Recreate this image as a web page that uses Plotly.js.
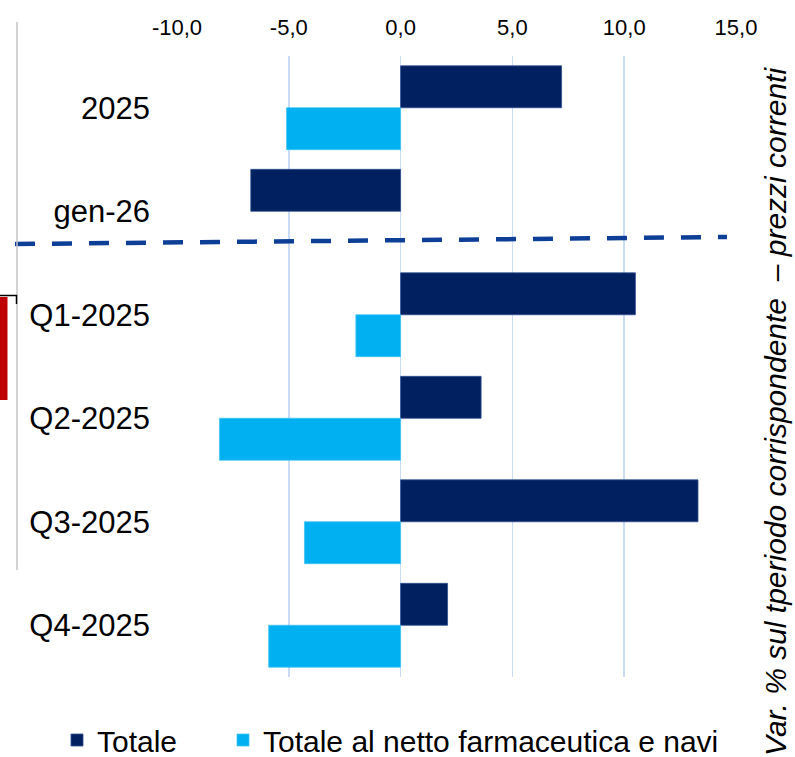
<!DOCTYPE html>
<html><head><meta charset="utf-8">
<script src="https://cdn.plot.ly/plotly-3.0.1.min.js"></script>
<style>body{margin:0;padding:0;background:#fff}#chart{width:795px;height:757px}</style>
</head><body><div id="chart"></div>
<script>
const categories = ['2025', 'gen-26', 'Q1-2025', 'Q2-2025', 'Q3-2025', 'Q4-2025'];
const totale = [7.2, -6.7, 10.5, 3.6, 13.3, 2.1];
const totaleNetto = [-5.1, null, -2.0, -8.1, -4.3, -5.9];
const seriesNames = ['Totale', 'Totale al netto farmaceutica e navi'];
const tickVals = [-10, -5, 0, 5, 10, 15];
const tickText = ['-10,0', '-5,0', '0,0', '5,0', '10,0', '15,0'];
const sideTitle = 'Var. % sul tperiodo corrispondente  – prezzi correnti';

const FONT = 'Arial, "Liberation Sans", sans-serif';
const W = 795, H = 757, L = 177, R = 59, T = 56, B = 80;
const pw = W - L - R, ph = H - T - B;
const px = v => (v - L) / pw;
const py = v => (H - B - v) / ph;

const traces = [
  {type: 'bar', orientation: 'h', name: seriesNames[0], y: categories, x: totale, legend: 'legend',
   marker: {color: '#002060', line: {color: '#2f4f8f', width: 0.8}}},
  {type: 'bar', orientation: 'h', name: seriesNames[1], y: categories, x: totaleNetto, legend: 'legend2',
   marker: {color: '#00B0F0', line: {color: '#40c4f4', width: 0.8}}}
];

const legendBase = {
  orientation: 'h', xanchor: 'left', yanchor: 'middle', y: py(740),
  font: {size: 30, family: FONT, color: '#000'}, itemwidth: 30, bgcolor: 'rgba(0,0,0,0)'
};

const layout = {
  width: W, height: H,
  margin: {l: L, r: R, t: T, b: B, autoexpand: false},
  paper_bgcolor: '#fff', plot_bgcolor: '#fff',
  font: {family: FONT, color: '#000'},
  barmode: 'group', bargap: 0.19, bargroupgap: 0,
  showlegend: true,
  xaxis: {
    side: 'top', range: [-10, 15], tickvals: tickVals, ticktext: tickText,
    showgrid: true, gridcolor: '#c9dbf6', gridwidth: 1.5,
    zeroline: false, showline: false, ticks: '', ticklabelstandoff: 16,
    tickfont: {size: 22, family: FONT, color: '#000'}
  },
  yaxis: {
    type: 'category', autorange: 'reversed', showgrid: false, zeroline: false,
    showline: false, ticks: '', ticklabelstandoff: 26,
    tickfont: {size: 31, family: FONT, color: '#000'}
  },
  legend: Object.assign({}, legendBase, {x: px(57)}),
  legend2: Object.assign({}, legendBase, {x: px(223)}),
  shapes: [
    {type: 'line', xref: 'paper', yref: 'paper', x0: px(15), y0: py(244), x1: px(727), y1: py(237),
     line: {color: '#0d3f96', width: 4.5, dash: '20px,17px'}},
    {type: 'line', xref: 'paper', yref: 'paper', x0: px(17), y0: py(22), x1: px(17), y1: py(570),
     line: {color: '#c4c4c4', width: 1.5}},
    {type: 'rect', xref: 'paper', yref: 'paper', x0: px(0), y0: py(297), x1: px(7.5), y1: py(400),
     line: {width: 0}, fillcolor: '#c00000'},
    {type: 'path', xref: 'paper', yref: 'paper',
     path: 'M ' + px(0) + ' ' + py(295.5) + ' L ' + px(16.5) + ' ' + py(295.5) + ' L ' + px(16.5) + ' ' + py(304),
     line: {color: '#000', width: 1.5}}
  ],
  annotations: [
    {xref: 'paper', yref: 'paper', x: px(775), y: py(412), text: '<i>' + sideTitle + '</i>',
     textangle: -90, showarrow: false, xanchor: 'center', yanchor: 'middle',
     font: {size: 30, family: FONT, color: '#000'}}
  ]
};

Plotly.newPlot('chart', traces, layout, {displayModeBar: false, staticPlot: true});
</script></body></html>
